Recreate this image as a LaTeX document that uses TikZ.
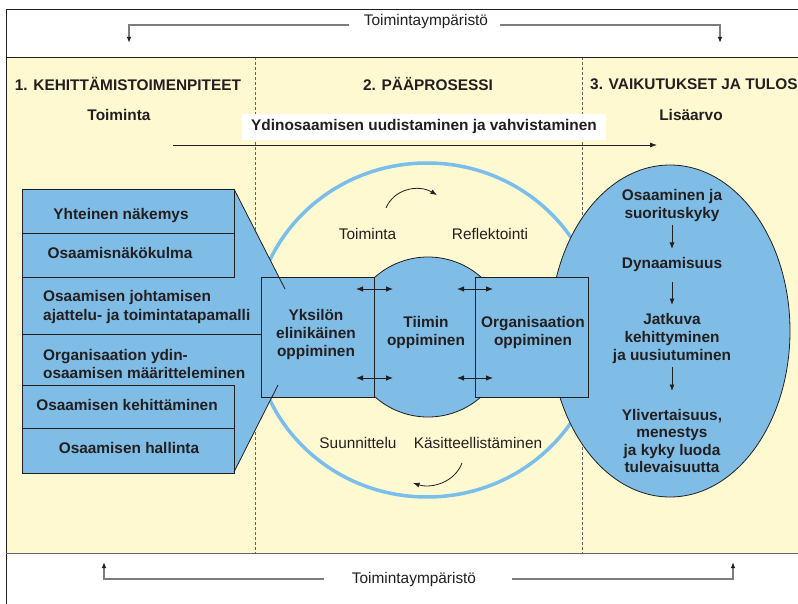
\documentclass[tikz,border=0pt]{standalone}
\usepackage{fontspec}
\setmainfont{Liberation Sans}
\usetikzlibrary{arrows.meta}
\definecolor{paper}{RGB}{255,249,210}
\definecolor{fillblue}{RGB}{127,189,230}
\definecolor{ringblue}{RGB}{122,190,235}
\definecolor{ink}{RGB}{35,31,32}
\definecolor{guide}{RGB}{125,125,125}
\begin{document}
\begin{tikzpicture}[x=1pt,y=-1pt,
  font=\fontsize{15.4}{18}\selectfont,
  txt/.style={text=ink, inner sep=0pt, align=center},
  bold/.style={txt, font=\fontsize{15.4}{18}\selectfont\bfseries},
  boldleft/.style={bold, align=left, anchor=west},
  envline/.style={guide, line width=1.1pt, -{Latex[length=6pt,width=4.5pt,color=ink]}},
  flowarrow/.style={ink, line width=0.8pt, -{Latex[length=6.5pt,width=5pt]}},
  dblarrow/.style={ink, line width=0.8pt, {Latex[length=7pt,width=5.5pt]}-{Latex[length=7pt,width=5.5pt]}},
  divider/.style={guide!80!black, line width=0.8pt, dash pattern=on 3pt off 2pt},
  framerule/.style={ink, line width=0.9pt},
  rowbox/.style={draw=ink, fill=fillblue, line width=0.9pt},
  learnbox/.style={draw=ink, fill=fillblue, line width=0.9pt, inner sep=0pt,
    minimum width=113pt, minimum height=120pt},
  ring/.style={draw=ringblue, line width=3.5pt}
]
\useasboundingbox (0,0) rectangle (798,604);
\clip (0,0) rectangle (798,604);
\fill[white] (0,0) rectangle (798,604);

% yellow band and column dividers
\fill[paper] (6,57) rectangle (810,553);
\draw[divider] (255,57) -- (255,553);
\draw[divider] (582,57) -- (582,553);

% outer frame and band edges
\draw[framerule] (6,620) -- (6,9) -- (810,9);
\draw[framerule] (6,57) -- (810,57);
\draw[framerule, draw=ink!70] (6,553) -- (810,553);

% operating environment, top and bottom
\node[txt] (envtop) at (426,22) {Toimintaympäristö};
\coordinate (etl0) at (349,25);
\coordinate (etl1) at (129,43);
\coordinate (etr0) at (500,25);
\coordinate (etr1) at (720,43);
\draw[envline] (etl0) -| (etl1);
\draw[envline] (etr0) -| (etr1);

\node[txt] (envbot) at (414,580) {Toimintaympäristö};
\coordinate (ebl0) at (324,579);
\coordinate (ebl1) at (104,562);
\coordinate (ebr0) at (512,579);
\coordinate (ebr1) at (733,562);
\draw[envline] (ebl0) -| (ebl1);
\draw[envline] (ebr0) -| (ebr1);

% column headings
\node[bold] (h1) at (128,84) {1. KEHITTÄMISTOIMENPITEET};
\node[bold] (h2) at (428,84) {2. PÄÄPROSESSI};
\node[boldleft] (h3) at (590,84) {3. VAIKUTUKSET JA TULOS};
\node[bold] (act) at (119,115) {Toiminta};
\node[bold] (val) at (691,115) {Lisäarvo};

% core competence banner and long arrow
\node[bold, fill=white, minimum width=364pt, minimum height=26pt] (core) at (424,127)
  {Ydinosaamisen uudistaminen ja vahvistaminen};
\coordinate (longa) at (173,145);
\coordinate (longb) at (657,145);
\draw[ink, line width=0.8pt, -{Latex[length=7pt,width=5pt]}] (longa) -- (longb);

% learning cycle ring
\draw[ring] (427,330) ellipse [x radius=173pt, y radius=167pt];

% results ellipse
\filldraw[fill=fillblue, draw=ink, line width=0.8pt] (670,331) ellipse [x radius=120pt, y radius=166pt];

% funnel of development measures
\fill[fillblue] (22,189) -- (234,189) -- (285,289) -- (278,385) -- (234,472) -- (22,472) -- cycle;
\draw[rowbox] (22,189) rectangle (234,233);
\draw[rowbox] (22,233) rectangle (234,277);
\draw[rowbox] (22,385) rectangle (234,428);
\draw[rowbox] (22,428) rectangle (234,473);
\draw[framerule] (22,277) -- (22,385);
\draw[framerule] (22,334) -- (261,334);

% team learning disc and the two learning boxes
\filldraw[fill=fillblue, draw=ink, line width=0.8pt] (428,337) circle [radius=80pt];
\node[learnbox] (indiv) at (317.5,337) {};
\node[learnbox] (org) at (531.5,337) {};

% funnel edges
\draw[ink, line width=0.8pt] (234,189) -- (285,289);
\draw[ink, line width=0.8pt] (234,472) -- (278,385);

% exchange arrows
\coordinate (xa1) at (356,289); \coordinate (xb1) at (393,289);
\coordinate (xa2) at (356,378); \coordinate (xb2) at (393,378);
\coordinate (xa3) at (457,289); \coordinate (xb3) at (493,289);
\coordinate (xa4) at (457,378); \coordinate (xb4) at (493,378);
\draw[dblarrow] (xa1) -- (xb1);
\draw[dblarrow] (xa2) -- (xb2);
\draw[dblarrow] (xa3) -- (xb3);
\draw[dblarrow] (xa4) -- (xb4);

% cycle turning arrows
\coordinate (ct0) at (386,208); \coordinate (ct1) at (437,195);
\coordinate (cb0) at (462,463); \coordinate (cb1) at (413,483);
\draw[flowarrow] (ct0) .. controls (394,189) and (418,184) .. (ct1);
\draw[flowarrow] (cb0) .. controls (455,482) and (432,489) .. (cb1);

% row texts
\node[bold] (r1) at (121,216) {Yhteinen näkemys};
\node[bold] (r2) at (120,253) {Osaamisnäkökulma};
\node[boldleft, font=\fontsize{15.4}{19}\selectfont\bfseries] (r3) at (43,307.5)
  {Osaamisen johtamisen\\ajattelu- ja toimintatapamalli};
\node[boldleft] (r4) at (43,364) {Organisaation ydin-\\osaamisen määritteleminen};
\node[bold] (r5) at (127,405) {Osaamisen kehittäminen};
\node[bold] (r6) at (129,448) {Osaamisen hallinta};

% learning levels
\node[bold] (tindiv) at (316,335) {Yksilön\\elinikäinen\\oppiminen};
\node[bold] (tteam) at (426,332.5) {Tiimin\\oppiminen};
\node[bold] (torg) at (533,332.5) {Organisaation\\oppiminen};

% cycle phases
\node[txt] (p1) at (367.5,234) {Toiminta};
\node[txt] (p2) at (490,234) {Reflektointi};
\node[txt] (p3) at (358,443) {Suunnittelu};
\node[txt] (p4) at (478,443) {Käsitteellistäminen};

% results chain
\node[bold] (e1) at (672,206) {Osaaminen ja\\suorituskyky};
\node[bold] (e2) at (672,265) {Dynaamisuus};
\node[bold] (e3) at (672,339) {Jatkuva\\kehittyminen\\ja uusiutuminen};
\node[bold, font=\fontsize{15.4}{17.4}\selectfont\bfseries] (e4) at (672,441)
  {Ylivertaisuus,\\menestys\\ja kyky luoda\\tulevaisuutta};
\coordinate (ea0) at (672,225); \coordinate (ea1) at (672,249);
\coordinate (eb0) at (672,282); \coordinate (eb1) at (672,305);
\coordinate (ec0) at (672,367); \coordinate (ec1) at (672,391);
\draw[flowarrow] (ea0) -- (ea1);
\draw[flowarrow] (eb0) -- (eb1);
\draw[flowarrow] (ec0) -- (ec1);
\end{tikzpicture}
\end{document}
